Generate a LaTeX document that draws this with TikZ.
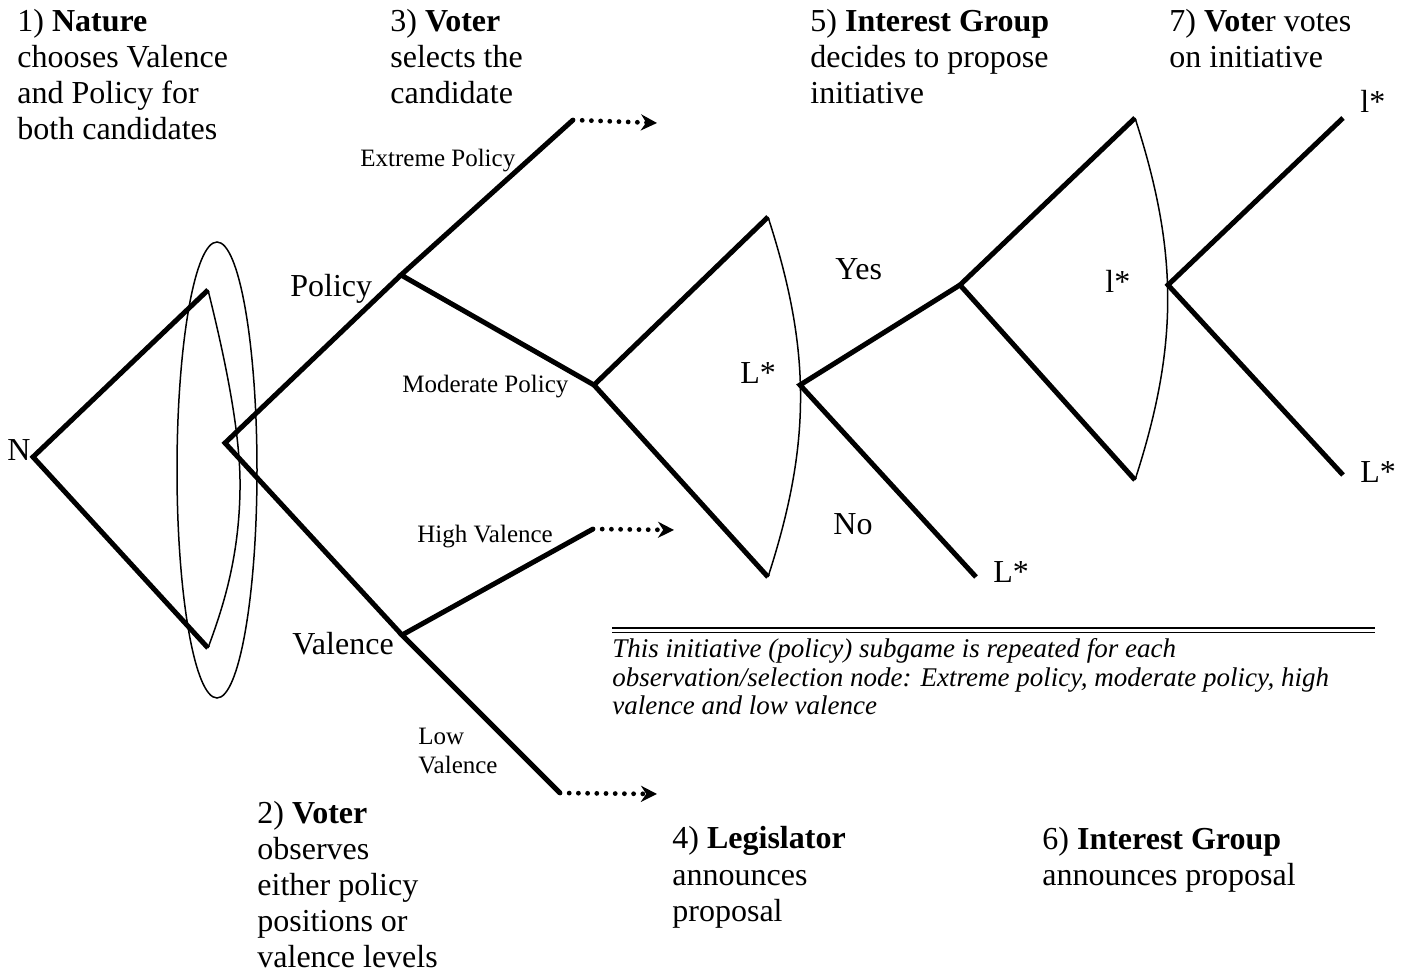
\documentclass[tikz,border=0pt]{standalone}
\usepackage{fontspec}
\setmainfont{Liberation Serif}
\usetikzlibrary{arrows.meta}
\begin{document}
\begin{tikzpicture}[x=0.5pt,y=-0.5pt,
  branch/.style={line width=2.5pt},
  infoset/.style={line width=0.75pt},
  dotarrow/.style={line width=2.4pt, dash pattern=on 0pt off 4.6pt, line cap=round, -{Stealth[length=8pt,width=8pt]}},
  big/.style={font=\fontsize{16}{18}\selectfont, inner sep=0pt, align=left},
  small/.style={font=\fontsize{12.5}{14.5}\selectfont, inner sep=0pt, align=left},
  note/.style={font=\fontsize{13.5}{14.25}\selectfont\itshape, inner sep=0pt, align=left}]
\useasboundingbox (0,0) rectangle (1408,977);
% vertices
\coordinate (N) at (33,457);
\coordinate (Nt) at (208,290);
\coordinate (Nb) at (208,648);
\coordinate (V) at (225,443);
\coordinate (P) at (401,275);
\coordinate (Val) at (402,635);
\coordinate (Ext) at (573,120);
\coordinate (ExtT) at (657,123);
\coordinate (Mod) at (594,385);
\coordinate (Hi) at (593,529);
\coordinate (HiT) at (674,530);
\coordinate (Lo) at (560,793);
\coordinate (LoT) at (657,794);
\coordinate (Lt) at (768,217);
\coordinate (Lb) at (768,577);
\coordinate (Leg) at (800,385);
\coordinate (Yes) at (960,285);
\coordinate (NoE) at (976,577);
\coordinate (It) at (1135,118);
\coordinate (Ib) at (1135,480);
\coordinate (IV) at (1168,285);
\coordinate (R1) at (1343,118);
\coordinate (R2) at (1343,475);
\coordinate (E) at (217,470);
\coordinate (ra) at (612,628);
\coordinate (rb) at (1375,628);
\coordinate (rc) at (612,633);
\coordinate (rd) at (1375,633);
% tree
\draw[branch] (Nt) -- (N) -- (Nb);
\draw[infoset] (Nt) .. controls (228,370) and (241,440) .. (240,490) .. controls (239,560) and (222,610) .. (Nb);
\draw[infoset] (E) ellipse [x radius=20pt, y radius=114pt];
\draw[branch] (P) -- (V) -- (Val);
\draw[branch] (Ext) -- (P) -- (Mod);
\draw[branch] (Hi) -- (Val) -- (Lo);
\draw[dotarrow] (Ext) -- (ExtT);
\draw[dotarrow] (Hi) -- (HiT);
\draw[dotarrow] (Lo) -- (LoT);
\draw[branch] (Lt) -- (Mod) -- (Lb);
\draw[infoset] (Lt) to[bend left=18] (Lb);
\draw[branch] (Yes) -- (Leg) -- (NoE);
\draw[branch] (It) -- (Yes) -- (Ib);
\draw[infoset] (It) to[bend left=18] (Ib);
\draw[branch] (R1) -- (IV) -- (R2);
\draw[line width=1pt] (ra) -- (rb);
\draw[line width=0.5pt] (rc) -- (rd);
% labels
\node[big, anchor=base east] (nlab) at (31,461) {N};
\node[big, anchor=base west] (pol) at (290,297) {Policy};
\node[big, anchor=base west] (val) at (292,655) {Valence};
\node[small, anchor=base west] (ext) at (360,167) {Extreme Policy};
\node[small, anchor=base west] (mod) at (402,393) {Moderate Policy};
\node[small, anchor=base west] (hi) at (417,543) {High Valence};
\node[small, anchor=base west] (lo) at (418,774) {Low\\Valence};
\node[big, anchor=base west] (ls1) at (740,384) {L*};
\node[big, anchor=base west] (yes) at (835,280) {Yes};
\node[big, anchor=base west] (no) at (833,535) {No};
\node[big, anchor=base west] (ls2) at (993,583) {L*};
\node[big, anchor=base west] (ls3) at (1105,293) {l*};
\node[big, anchor=base west] (ls4) at (1360,113) {l*};
\node[big, anchor=base west] (ls5) at (1360,483) {L*};
% stage texts (base anchor = last line)
\node[big, anchor=base west] (t1) at (17,140) {1) \textbf{Nature}\\chooses Valence\\and Policy for\\both candidates};
\node[big, anchor=base west] (t3) at (390,104) {3) \textbf{Voter}\\selects the\\candidate};
\node[big, anchor=base west] (t5) at (810,104) {5) \textbf{Interest Group}\\decides to propose\\initiative};
\node[big, anchor=base west] (t7) at (1169,68) {7) \textbf{Vote}r votes\\on initiative};
\node[big, anchor=base west] (t2) at (257,967) {2) \textbf{Voter}\\observes\\either policy\\positions or\\valence levels};
\node[big, anchor=base west] (t4) at (672,921) {4) \textbf{Legislator}\\announces\\proposal};
\node[big, anchor=base west] (t6) at (1042,885) {6) \textbf{Interest Group}\\announces proposal};
\node[note, anchor=base west] (nt) at (612,715) {This initiative (policy) subgame is repeated for each\\observation/selection node: Extreme policy, moderate policy, high\\valence and low valence};
\end{tikzpicture}
\end{document}
